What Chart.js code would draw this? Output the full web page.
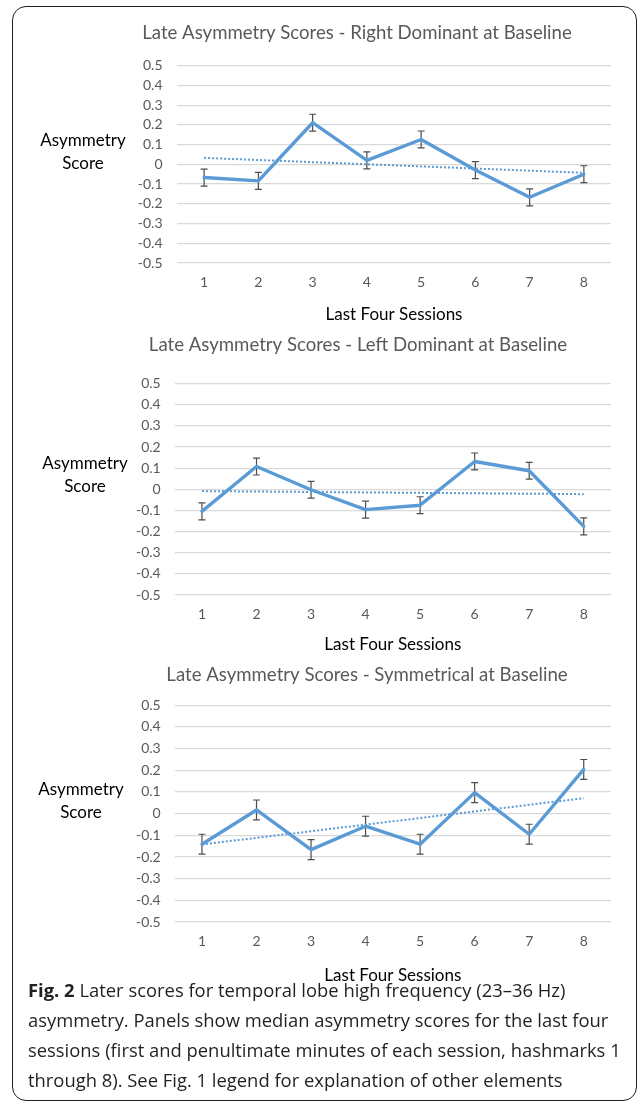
<!DOCTYPE html>
<html>
<head>
<meta charset="utf-8">
<script src="https://cdn.jsdelivr.net/npm/chart.js@4.4.1/dist/chart.umd.min.js"></script>
<style>
  body { margin: 0; background: #fff; }
  #page { position: relative; width: 637px; height: 1103px; overflow: hidden; font-family: Lato, sans-serif; }
  #frame { position: absolute; left: 12px; top: 6px; width: 625px; height: 1095px; box-sizing: border-box;
           border: 1.5px solid #1f1f1f; border-radius: 14px; }
  .panel { position: absolute; }
  .ylab { position: absolute; width: 120px; text-align: center; font-size: 17px; line-height: 23px; color: #000; }
  #caption { position: absolute; left: 28px; top: 975px; width: 605px; font-family: "Open Sans", sans-serif;
             font-size: 18.4px; line-height: 30px; color: #231f20; white-space: nowrap; }
  #caption b { font-weight: 700; }
</style>
</head>
<body>
<div id="page">
  <div id="frame"></div>
  <div class="panel" id="p1"><canvas id="c1"></canvas></div>
  <div class="panel" id="p2"><canvas id="c2"></canvas></div>
  <div class="panel" id="p3"><canvas id="c3"></canvas></div>
  <div class="ylab" style="left:23px; top:128px;">Asymmetry<br>Score</div>
  <div class="ylab" style="left:25px; top:451px;">Asymmetry<br>Score</div>
  <div class="ylab" style="left:21px; top:777px;">Asymmetry<br>Score</div>
  <div id="caption"><b>Fig. 2</b> Later scores for temporal lobe high frequency (23–36 Hz)<br>asymmetry. Panels show median asymmetry scores for the last four<br>sessions (first and penultimate minutes of each session, hashmarks 1<br>through 8). See Fig. 1 legend for explanation of other elements</div>
</div>
<script>
// session hashmarks on the x axis
const sessions = ['1', '2', '3', '4', '5', '6', '7', '8'];

// median asymmetry score per hashmark, with error bar half-heights
const rightDominant = [-0.067, -0.084, 0.211, 0.020, 0.126, -0.029, -0.167, -0.050];
const rightDominantErr = [0.043, 0.043, 0.043, 0.043, 0.043, 0.043, 0.043, 0.043];
const leftDominant = [-0.104, 0.108, -0.002, -0.096, -0.075, 0.132, 0.088, -0.175];
const leftDominantErr = [0.040, 0.040, 0.040, 0.040, 0.040, 0.040, 0.040, 0.040];
const symmetrical = [-0.141, 0.017, -0.166, -0.058, -0.141, 0.097, -0.095, 0.204];
const symmetricalErr = [0.046, 0.046, 0.046, 0.046, 0.046, 0.046, 0.046, 0.046];

const yMin = -0.5;
const yMax = 0.5;
const yStep = 0.1;

const BLUE = '#5b9bd5';
const GREY_TEXT = '#595959';

// least squares fit, evaluated at each hashmark (Excel style linear trendline)
function linearTrend(values) {
    const n = values.length;
    const xs = values.map((v, i) => i + 1);
    const mx = xs.reduce((a, b) => a + b, 0) / n;
    const my = values.reduce((a, b) => a + b, 0) / n;
    let sxy = 0, sxx = 0;
    for (let i = 0; i < n; i++) {
        sxy += (xs[i] - mx) * (values[i] - my);
        sxx += (xs[i] - mx) * (xs[i] - mx);
    }
    const slope = sxy / sxx;
    return xs.map(x => my + slope * (x - mx));
}

// vertical error bars with small caps, drawn under the series line
const errorBars = {
    id: 'errorBars',
    beforeDatasetsDraw(chart, args, opts) {
        const ctx = chart.ctx;
        const xs = chart.scales.x;
        const ys = chart.scales.y;
        const vals = chart.data.datasets[1].data;
        ctx.save();
        ctx.strokeStyle = '#4d4d4d';
        ctx.lineWidth = 1.2;
        vals.forEach((v, i) => {
            const x = xs.getPixelForValue(i);
            const top = ys.getPixelForValue(v + opts.errors[i]);
            const bot = ys.getPixelForValue(v - opts.errors[i]);
            ctx.beginPath();
            ctx.moveTo(x, top); ctx.lineTo(x, bot);
            ctx.moveTo(x - 3.5, top); ctx.lineTo(x + 3.5, top);
            ctx.moveTo(x - 3.5, bot); ctx.lineTo(x + 3.5, bot);
            ctx.stroke();
        });
        ctx.restore();
    }
};

// left edge of each canvas also sets where its title is centred
const panels = [
    { canvas: 'c1', box: 'p1', title: 'Late Asymmetry Scores - Right Dominant at Baseline',
      values: rightDominant, errors: rightDominantErr,
      left: 103, top: 10, plotLeft: 177, plotTop: 65.7, plotBottom: 263.3, titleY: 33, xTitleY: 315, tickGap: 14.5 },
    { canvas: 'c2', box: 'p2', title: 'Late Asymmetry Scores - Left Dominant at Baseline',
      values: leftDominant, errors: leftDominantErr,
      left: 105, top: 322, plotLeft: 174.7, plotTop: 383.7, plotBottom: 595.7, titleY: 345, xTitleY: 645.3, tickGap: 14 },
    { canvas: 'c3', box: 'p3', title: 'Late Asymmetry Scores - Symmetrical at Baseline',
      values: symmetrical, errors: symmetricalErr,
      left: 123, top: 652, plotLeft: 174.7, plotTop: 705.3, plotBottom: 922.3, titleY: 675, xTitleY: 976, tickGap: 14 }
];

const plotRight = 611;
const canvasRight = 634;
const titleSize = 18.6;
const tickSize = 14;
const axisTitleSize = 17;
const xScaleHeight = 66;

panels.forEach(p => {
    const w = canvasRight - p.left;
    const h = p.plotBottom - p.top + xScaleHeight;
    const box = document.getElementById(p.box);
    box.style.left = p.left + 'px';
    box.style.top = p.top + 'px';
    box.style.width = w + 'px';
    box.style.height = h + 'px';
    const canvas = document.getElementById(p.canvas);
    canvas.width = w;
    canvas.height = h;

    const titleLH = titleSize * 1.2;
    const padTop = (p.titleY - p.top) - titleLH / 2;
    const padBottom = (p.plotTop - p.top) - padTop - titleLH;
    const axisLH = axisTitleSize * 1.2;
    const xTitlePadBottom = xScaleHeight - axisLH / 2 - (p.xTitleY - p.plotBottom);

    new Chart(canvas, {
        type: 'line',
        data: {
            labels: sessions,
            datasets: [
                {
                    data: linearTrend(p.values),
                    borderColor: BLUE,
                    borderWidth: 2,
                    borderDash: [2, 2],
                    pointRadius: 0,
                    tension: 0
                },
                {
                    data: p.values,
                    borderColor: BLUE,
                    borderWidth: 3.4,
                    borderJoinStyle: 'round',
                    borderCapStyle: 'round',
                    pointRadius: 0,
                    tension: 0
                }
            ]
        },
        options: {
            responsive: false,
            animation: false,
            devicePixelRatio: 1,
            layout: { padding: { left: 0, right: canvasRight - plotRight, top: 0, bottom: 0 } },
            plugins: {
                legend: { display: false },
                tooltip: { enabled: false },
                title: {
                    display: true,
                    text: p.title,
                    color: GREY_TEXT,
                    font: { family: 'Lato', size: titleSize, weight: 'normal' },
                    padding: { top: padTop, bottom: padBottom }
                },
                errorBars: { errors: p.errors }
            },
            scales: {
                x: {
                    type: 'category',
                    offset: true,
                    grid: { display: false, drawTicks: false },
                    border: { display: false },
                    ticks: { color: GREY_TEXT, font: { family: 'Lato', size: tickSize }, padding: 11, maxRotation: 0 },
                    title: {
                        display: true,
                        text: 'Last Four Sessions',
                        color: '#000',
                        font: { family: 'Lato', size: axisTitleSize },
                        padding: { top: 8, bottom: xTitlePadBottom }
                    },
                    afterFit(scale) { scale.height = xScaleHeight; }
                },
                y: {
                    min: yMin,
                    max: yMax,
                    grid: { color: '#d9d9d9', lineWidth: 1.2, drawTicks: false },
                    border: { display: false },
                    ticks: {
                        stepSize: yStep,
                        autoSkip: false,
                        color: GREY_TEXT,
                        font: { family: 'Lato', size: tickSize },
                        padding: p.tickGap,
                        callback: v => String(Math.round(v * 10) / 10)
                    },
                    afterFit(scale) { scale.width = p.plotLeft - p.left; }
                }
            }
        },
        plugins: [errorBars]
    });
});
</script>
</body>
</html>
